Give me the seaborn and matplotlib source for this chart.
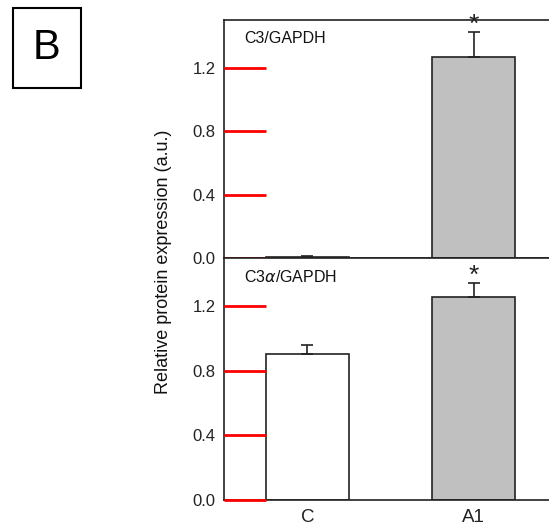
import numpy as np
import matplotlib.pyplot as plt
import matplotlib.patches as mpatches
import pandas as pd
import seaborn as sns

# dane
groups = ['C', 'A1']
c3_mean = [0.006, 1.264]
c3_err = [0.005, 0.16]
c3a_mean = [0.908, 1.258]
c3a_err = [0.05, 0.09]
bar_colors = ['white', '#c0c0c0']
stars = ['', '*']
yticks = [0.0, 0.4, 0.8, 1.2]

plt.rcParams.update({'font.family': ['Liberation Sans', 'DejaVu Sans'],
                     'text.color': '#111111', 'axes.edgecolor': '#222222',
                     'ytick.color': '#222222', 'xtick.color': '#222222',
                     'axes.linewidth': 1.2})

fig = plt.figure(figsize=(5.49, 5.25), dpi=100)
W, H = 549, 525
ax1 = fig.add_axes([224 / W, (H - 258) / H, 333 / W, 238 / H])
ax2 = fig.add_axes([224 / W, (H - 500) / H, 333 / W, 242 / H])

palette = dict(zip(groups, bar_colors))


def panel(ax, means, errs, title):
    df = pd.DataFrame({'grupa': groups, 'wartosc': means})
    sns.barplot(data=df, x='grupa', y='wartosc', hue='grupa', palette=palette,
                width=0.5, edgecolor='#222222', linewidth=1.2, legend=False,
                ax=ax, errorbar=None)
    # tylko górna połowa słupka błędu
    ax.errorbar(range(len(groups)), means, yerr=[np.zeros(len(errs)), errs],
                fmt='none', ecolor='#222222', elinewidth=1.2, capsize=4, capthick=1.2)
    for i, s in enumerate(stars):
        if s:
            ax.text(i, means[i] + errs[i] - 0.03, s, ha='center', va='bottom',
                    fontsize=19, color='#222222')
    ax.set_xlim(-0.5, 1.5)
    ax.set_ylim(0, 1.5)
    ax.set_yticks(yticks)
    ax.set_yticklabels([f'{t:.1f}' for t in yticks])
    ax.set_xlabel('')
    ax.set_ylabel('')
    ax.text(0.06, 0.955, title, transform=ax.transAxes, ha='left', va='top', fontsize=11.5)
    ax.yaxis.set_ticks_position('left')
    ax.tick_params(axis='y', which='major', direction='in', length=30, width=2,
                   color='red', labelsize=12, pad=6)
    ax.tick_params(axis='x', bottom=False, labelsize=13.5, pad=3)
    ax.set_axisbelow(False)


panel(ax1, c3_mean, c3_err, 'C3/GAPDH')
panel(ax2, c3a_mean, c3a_err, r'C3$\alpha$/GAPDH')
ax1.set_xticklabels([])

fig.text(163 / W, 1 - 262 / H, 'Relative protein expression (a.u.)', rotation=90,
         ha='center', va='center', fontsize=13)

# etykieta panelu B w ramce
fig.patches.append(mpatches.Rectangle((13 / W, 1 - 88 / H), 68 / W, 80 / H,
                                      transform=fig.transFigure, fill=False,
                                      edgecolor='black', linewidth=1.5))
fig.text(47 / W, 1 - 48 / H, 'B', ha='center', va='center', fontsize=30, color='black')

fig.savefig('out.png', dpi=100)
